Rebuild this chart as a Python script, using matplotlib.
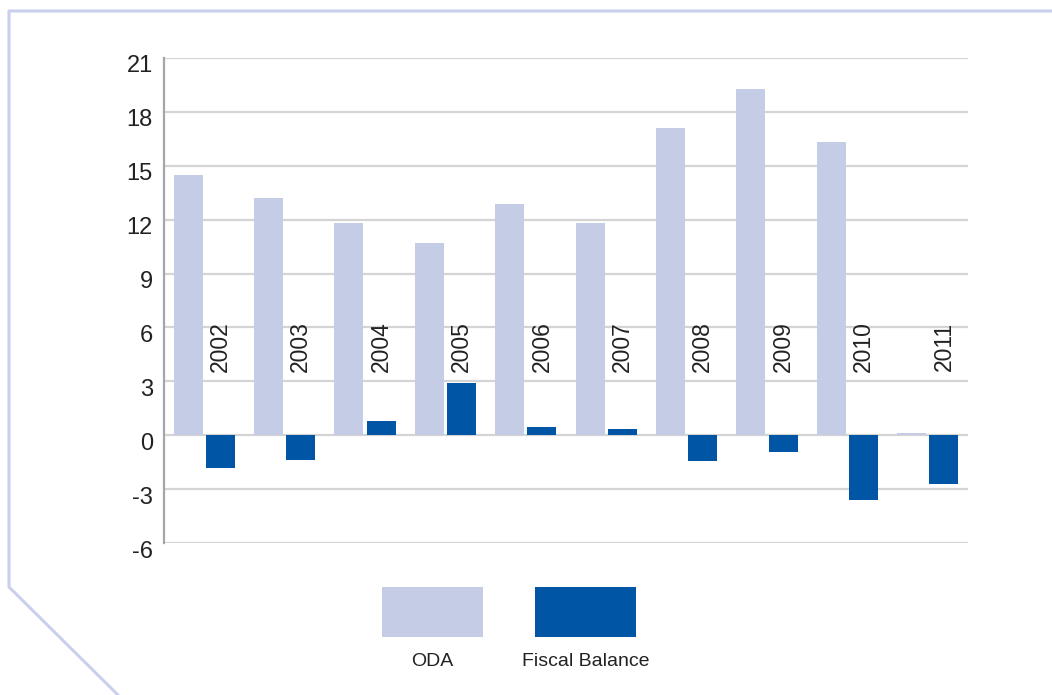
import matplotlib
matplotlib.use("Agg")
import matplotlib.pyplot as plt
from matplotlib.lines import Line2D
from matplotlib.patches import Rectangle
from matplotlib.transforms import ScaledTranslation

plt.rcParams['font.family'] = ['Liberation Sans', 'DejaVu Sans']

years = ["2002", "2003", "2004", "2005", "2006", "2007", "2008", "2009", "2010", "2011"]
oda = [14.5, 13.2, 11.8, 10.7, 12.9, 11.8, 17.1, 19.3, 16.3, 0.1]
fiscal = [-1.8, -1.4, 0.8, 2.9, 0.45, 0.35, -1.45, -0.95, -3.6, -2.7]
yticks = [-6, -3, 0, 3, 6, 9, 12, 15, 18, 21]
series_names = ["ODA", "Fiscal Balance"]

c_oda = "#C5CCE6"
c_fis = "#0055A5"
grid_c = "#D4D4D4"

fig = plt.figure(figsize=(10.52, 6.95), dpi=100)
ax = fig.add_axes([164/1052, 1 - 543/695, (968 - 164)/1052, (543 - 58)/695])

x = list(range(len(years)))
w = 0.36
ax.bar([i - 0.2 for i in x], oda, width=w, color=c_oda, zorder=3)
ax.bar([i + 0.2 for i in x], fiscal, width=w, color=c_fis, zorder=3)

ax.set_xlim(-0.5, len(years) - 0.5)
ax.set_ylim(-6, 21)
ax.set_yticks(yticks)
ax.set_yticklabels([str(v) for v in yticks], fontsize=17, color="#222222")
ax.tick_params(axis='y', length=0, pad=8)
offset = ScaledTranslation(0, -6/100, fig.dpi_scale_trans)
for lbl in ax.get_yticklabels():
    lbl.set_transform(lbl.get_transform() + offset)
ax.set_xticks([])
for v in yticks:
    ax.axhline(v, color=grid_c, lw=1.6, zorder=1)

for s in ["top", "right", "bottom"]:
    ax.spines[s].set_visible(False)
ax.spines["left"].set_color("#A6A6A6")
ax.spines["left"].set_linewidth(1.6)

for i, y in enumerate(years):
    ax.text(i + 0.2, 4.95, y, rotation=90, ha="center", va="center",
            fontsize=16.5, color="#222222", zorder=4)

# frame with cut corner
fig.add_artist(Line2D([1052/1052, 9/1052, 9/1052, 118/1052],
                      [1 - 11/695, 1 - 11/695, 1 - 587/695, 0.0],
                      transform=fig.transFigure, color="#C9D0EC", lw=2.2))

# legend
leg = [(382, c_oda, series_names[0]), (535, c_fis, series_names[1])]
for x0, col, lab in leg:
    fig.add_artist(Rectangle((x0/1052, 1 - 637/695), 101/1052, 50/695,
                             transform=fig.transFigure, color=col, lw=0))
    fig.text((x0 + 50.5)/1052, 1 - 661/695, lab, ha="center", va="center",
             fontsize=14, color="#222222")

fig.savefig("out.png", dpi=100)
